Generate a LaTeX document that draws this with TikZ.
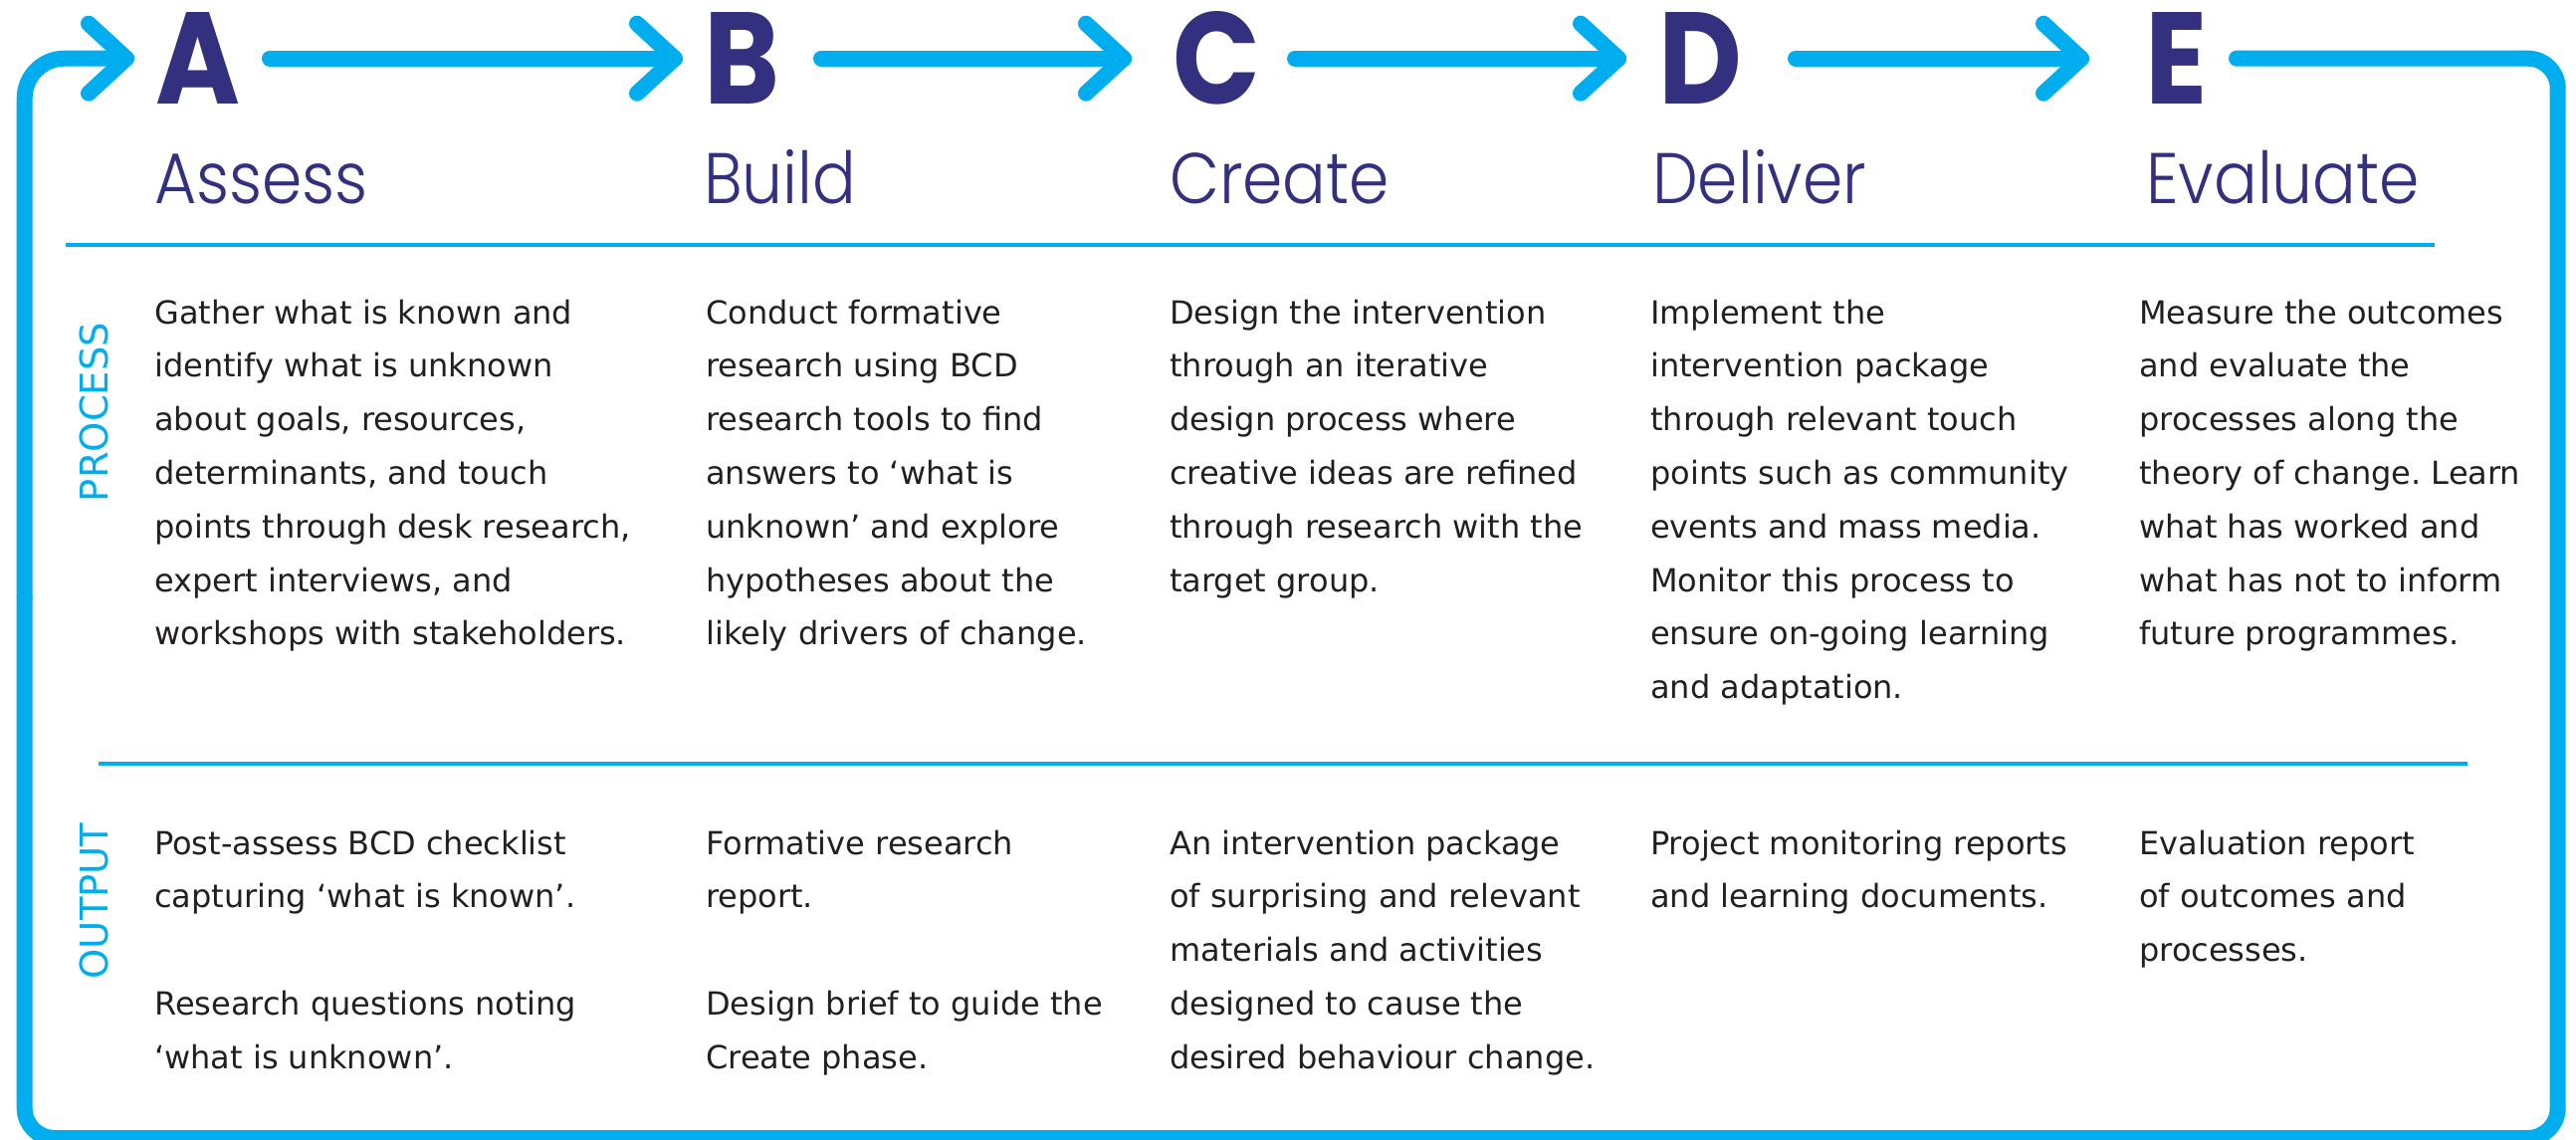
\documentclass[tikz,border=0pt]{standalone}
\usepackage{fontspec}
\setmainfont{DejaVu Sans}
\newfontfamily\headfont{Poppins}[FakeStretch=0.88]
\newfontfamily\headlight{Poppins Light}[FakeStretch=0.9]
\usetikzlibrary{calc}
\definecolor{cyanb}{HTML}{00AEEF}
\definecolor{navy}{HTML}{32307F}
\definecolor{ink}{HTML}{231F20}
\frenchspacing
\newcommand\txtline[1]{\hbox{#1}}
\newcommand\headat[1]{\draw[flow] ($(#1)+(-38,-35)$) -- (#1) -- ($(#1)+(-38,35)$);}
\begin{document}
\begin{tikzpicture}[x=1pt,y=-1pt,
 flow/.style={draw=cyanb,line width=16pt,line cap=round,line join=round},
 sepline/.style={draw=cyanb,line width=3.5pt},
 letter/.style={anchor=base west,inner sep=0pt,text=navy,font=\headfont\bfseries\fontsize{131}{131}\selectfont},
 heading/.style={anchor=base west,inner sep=0pt,text=navy,font=\headlight\fontsize{72}{72}\selectfont},
 body/.style={anchor=base west,inner sep=0pt,text=ink,font=\fontsize{32}{53.8}\selectfont},
 side/.style={anchor=base,inner sep=0pt,rotate=90,text=cyanb,font=\fontsize{38.5}{40}\selectfont}]
\useasboundingbox (0,0) rectangle (2588,1144);
% letters
\node[letter] (A) at (156,104) {A};
\node[letter] (B) at (707,104) {B};
\node[letter] (C) at (1178,104) {C};
\node[letter] (D) at (1666,104) {D};
\node[letter] (E) at (2155,104) {E};
% headings
\node[heading] (hA) at (155,204) {Assess};
\node[heading] (hB) at (707,204) {Build};
\node[heading] (hC) at (1175,204) {Create};
\node[heading] (hD) at (1660,204) {Deliver};
\node[heading] (hE) at (2156,204) {Evaluate};
% arrow coordinates
\coordinate (tA) at (127,58.7);
\coordinate (sAB) at (271,58.7);
\coordinate (tAB) at (678,58.7);
\coordinate (sBC) at (825,58.7);
\coordinate (tBC) at (1129,58.7);
\coordinate (sCD) at (1301,58.7);
\coordinate (tCD) at (1626,58.7);
\coordinate (sDE) at (1804,58.7);
\coordinate (tDE) at (2091,58.7);
\coordinate (sE) at (2247,58.7);
\coordinate (cTR) at (2569.7,58.7);
\coordinate (cBR) at (2569.7,1143);
\coordinate (cBL) at (24.7,1143);
\coordinate (mL) at (24.7,600);
\coordinate (cTL) at (24.7,58.7);
\draw[flow] (sAB) -- (tAB); \headat{tAB}
\draw[flow] (sBC) -- (tBC); \headat{tBC}
\draw[flow] (sCD) -- (tCD); \headat{tCD}
\draw[flow] (sDE) -- (tDE); \headat{tDE}
\draw[flow,rounded corners=30pt] (sE) -- (cTR) -- (cBR) -- (cBL) -- (mL);
\draw[flow,rounded corners=40pt] (mL) -- (cTL) -- (tA);
\headat{tA}
% separators
\coordinate (s1a) at (66,246); \coordinate (s1b) at (2446,246);
\coordinate (s2a) at (99,767); \coordinate (s2b) at (2479,767);
\draw[sepline] (s1a) -- (s1b);
\draw[sepline] (s2a) -- (s2b);
% side labels
\node[side] (lp) at (108.5,414) {PROCESS};
\node[side] (lo) at (108.5,905) {OUTPUT};
% process texts
\node[body] (pA) at (155,325) {\vtop{\txtline{Gather what is known and}\txtline{identify what is unknown}\txtline{about goals, resources,}\txtline{determinants, and touch}\txtline{points through desk research,}\txtline{expert interviews, and}\txtline{workshops with stakeholders.}}};
\node[body] (pB) at (709,325) {\vtop{\txtline{Conduct formative}\txtline{research using BCD}\txtline{research tools to find}\txtline{answers to ‘what is}\txtline{unknown’ and explore}\txtline{hypotheses about the}\txtline{likely drivers of change.}}};
\node[body] (pC) at (1175,325) {\vtop{\txtline{Design the intervention}\txtline{through an iterative}\txtline{design process where}\txtline{creative ideas are refined}\txtline{through research with the}\txtline{target group.}}};
\node[body] (pD) at (1658,325) {\vtop{\txtline{Implement the}\txtline{intervention package}\txtline{through relevant touch}\txtline{points such as community}\txtline{events and mass media.}\txtline{Monitor this process to}\txtline{ensure on-going learning}\txtline{and adaptation.}}};
\node[body] (pE) at (2149,325) {\vtop{\txtline{Measure the outcomes}\txtline{and evaluate the}\txtline{processes along the}\txtline{theory of change. Learn}\txtline{what has worked and}\txtline{what has not to inform}\txtline{future programmes.}}};
% output texts
\node[body] (oA) at (155,858) {\vtop{\txtline{Post-assess BCD checklist}\txtline{capturing ‘what is known’.}\txtline{}\txtline{Research questions noting}\txtline{‘what is unknown’.}}};
\node[body] (oB) at (709,858) {\vtop{\txtline{Formative research}\txtline{report.}\txtline{}\txtline{Design brief to guide the}\txtline{Create phase.}}};
\node[body] (oC) at (1175,858) {\vtop{\txtline{An intervention package}\txtline{of surprising and relevant}\txtline{materials and activities}\txtline{designed to cause the}\txtline{desired behaviour change.}}};
\node[body] (oD) at (1658,858) {\vtop{\txtline{Project monitoring reports}\txtline{and learning documents.}}};
\node[body] (oE) at (2149,858) {\vtop{\txtline{Evaluation report}\txtline{of outcomes and}\txtline{processes.}}};
\end{tikzpicture}
\end{document}
